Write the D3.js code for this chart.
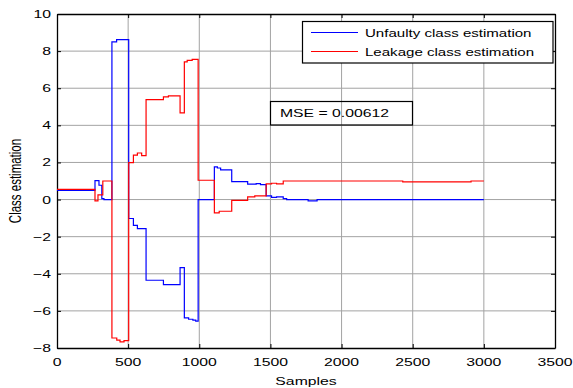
<!DOCTYPE html>
<html>
<head>
<meta charset="utf-8">
<script src="https://cdn.jsdelivr.net/npm/d3@7"></script>
<style>
  html, body { margin: 0; padding: 0; background: #fff; }
  svg { display: block; }
  text { font-family: "Liberation Sans", Arial, Helvetica, sans-serif; fill: #000; }
</style>
</head>
<body>
<svg id="chart" width="573" height="388"></svg>
<script>
// Class estimation over samples: step changes [sample, value]
const unfaultySteps = [
  [0, 0.5], [267, 1.02], [295, 0.77], [315, 0.05], [330, 0.0],
  [386, 8.5], [419, 8.62], [504, -1.02], [537, -1.39], [565, -1.57],
  [626, -4.35], [748, -4.58], [865, -3.67], [895, -6.38], [925, -6.45],
  [955, -6.5], [975, -6.55], [992, 0.0], [1106, 1.76], [1127, 1.7],
  [1150, 1.6], [1228, 0.97], [1340, 0.83], [1400, 0.86], [1430, 0.81],
  [1470, 0.2], [1508, 0.12], [1543, 0.14], [1590, 0.05], [1614, 0.0],
  [1765, -0.07], [1828, 0.0], [3000, 0.0]
];
const leakageSteps = [
  [0, 0.55], [267, -0.07], [288, 0.25], [322, 1.0], [386, -7.46],
  [420, -7.58], [443, -7.67], [471, -7.6], [504, 1.99], [537, 2.39],
  [565, 2.51], [595, 2.37], [626, 5.39], [748, 5.53], [783, 5.59],
  [865, 4.67], [895, 7.42], [915, 7.5], [950, 7.55], [992, 1.04],
  [1106, -0.72], [1140, -0.63], [1228, -0.04], [1340, 0.14], [1390, 0.2],
  [1470, 0.84], [1508, 0.88], [1543, 0.85], [1590, 1.0], [2430, 0.95],
  [2910, 1.0], [3000, 1.0]
];
const seriesNames = ["Unfaulty class estimation", "Leakage class estimation"];
const seriesColors = ["#0000ff", "#ff0000"];
const xTicks = [0, 500, 1000, 1500, 2000, 2500, 3000, 3500];
const yTicks = [-8, -6, -4, -2, 0, 2, 4, 6, 8, 10];
const xLabel = "Samples";
const yLabel = "Class estimation";
const mseText = "MSE = 0.00612";

const svg = d3.select("#chart");
const L = 57, R = 555, T = 14, B = 348;
const FS = 11.5, SX = 1.37; // text size and horizontal stretch

const x = d3.scaleLinear().domain([0, 3500]).range([L, R]);
const y = d3.scaleLinear().domain([-8, 10]).range([B, T]);

function label(px, py, str, anchor, rotate, sx) {
  const g = svg.append("g")
    .attr("transform", `translate(${px},${py}) scale(${sx || SX},1)` + (rotate ? " rotate(-90)" : ""));
  g.append("text").attr("x", 0).attr("y", 0)
    .attr("text-anchor", anchor).attr("font-size", FS).text(str);
  return g;
}

// grid, placed exactly on the scale positions so the traces sit on it
const grid = svg.append("g").attr("stroke", "#a3a3a3").attr("stroke-width", 1);
xTicks.slice(1, -1).forEach(t => {
  grid.append("line").attr("x1", x(t)).attr("x2", x(t)).attr("y1", T).attr("y2", B);
});
yTicks.slice(1, -1).forEach(t => {
  grid.append("line").attr("y1", y(t)).attr("y2", y(t)).attr("x1", L).attr("x2", R);
});

// axes with inward ticks on all four sides
const tickLen = 4;
const axB = svg.append("g").attr("transform", `translate(0,${B})`)
  .call(d3.axisBottom(x).tickValues(xTicks).tickSizeInner(-tickLen).tickSizeOuter(0).tickFormat(""));
const axT = svg.append("g").attr("transform", `translate(0,${T})`)
  .call(d3.axisTop(x).tickValues(xTicks).tickSizeInner(-tickLen).tickSizeOuter(0).tickFormat(""));
const axL = svg.append("g").attr("transform", `translate(${L},0)`)
  .call(d3.axisLeft(y).tickValues(yTicks).tickSizeInner(-tickLen).tickSizeOuter(0).tickFormat(""));
const axRt = svg.append("g").attr("transform", `translate(${R},0)`)
  .call(d3.axisRight(y).tickValues(yTicks).tickSizeInner(-tickLen).tickSizeOuter(0).tickFormat(""));
[axB, axT, axL, axRt].forEach(a => {
  a.select(".domain").attr("stroke", "#000").attr("stroke-width", 1.3);
  a.selectAll(".tick line").attr("stroke", "#000").attr("stroke-width", 1);
});

// tick labels
xTicks.forEach(t => label(x(t), 366, d3.format("d")(t), "middle"));
yTicks.forEach(t => label(51, y(t) + 4, d3.format("d")(t), "end"));

// axis titles
label((L + R) / 2, 385, xLabel, "middle");
label(20.5, (T + B) / 2, yLabel, "middle", true);

// series
const line = d3.line().x(d => x(d[0])).y(d => y(d[1])).curve(d3.curveStepAfter);
[unfaultySteps, leakageSteps].forEach((data, i) => {
  svg.append("path").datum(data)
    .attr("fill", "none").attr("stroke", seriesColors[i]).attr("stroke-width", 1.2)
    .attr("d", line);
});

// MSE annotation box (transparent)
svg.append("rect").attr("x", 270.5).attr("y", 101.5).attr("width", 142).attr("height", 23.5)
  .attr("fill", "none").attr("stroke", "#000").attr("stroke-width", 1.2);
label(280, 117, mseText, "start");

// legend
svg.append("rect").attr("x", 302.5).attr("y", 21.5).attr("width", 250.5).attr("height", 41.5)
  .attr("fill", "#fff").attr("stroke", "#000").attr("stroke-width", 1.2);
const legY = [32.5, 51.5];
seriesNames.forEach((name, i) => {
  svg.append("line").attr("x1", 311).attr("x2", 358).attr("y1", legY[i]).attr("y2", legY[i])
    .attr("stroke", seriesColors[i]).attr("stroke-width", 1.1);
  label(365, legY[i] + 4.5, name, "start", false, 1.31);
});
</script>
</body>
</html>
